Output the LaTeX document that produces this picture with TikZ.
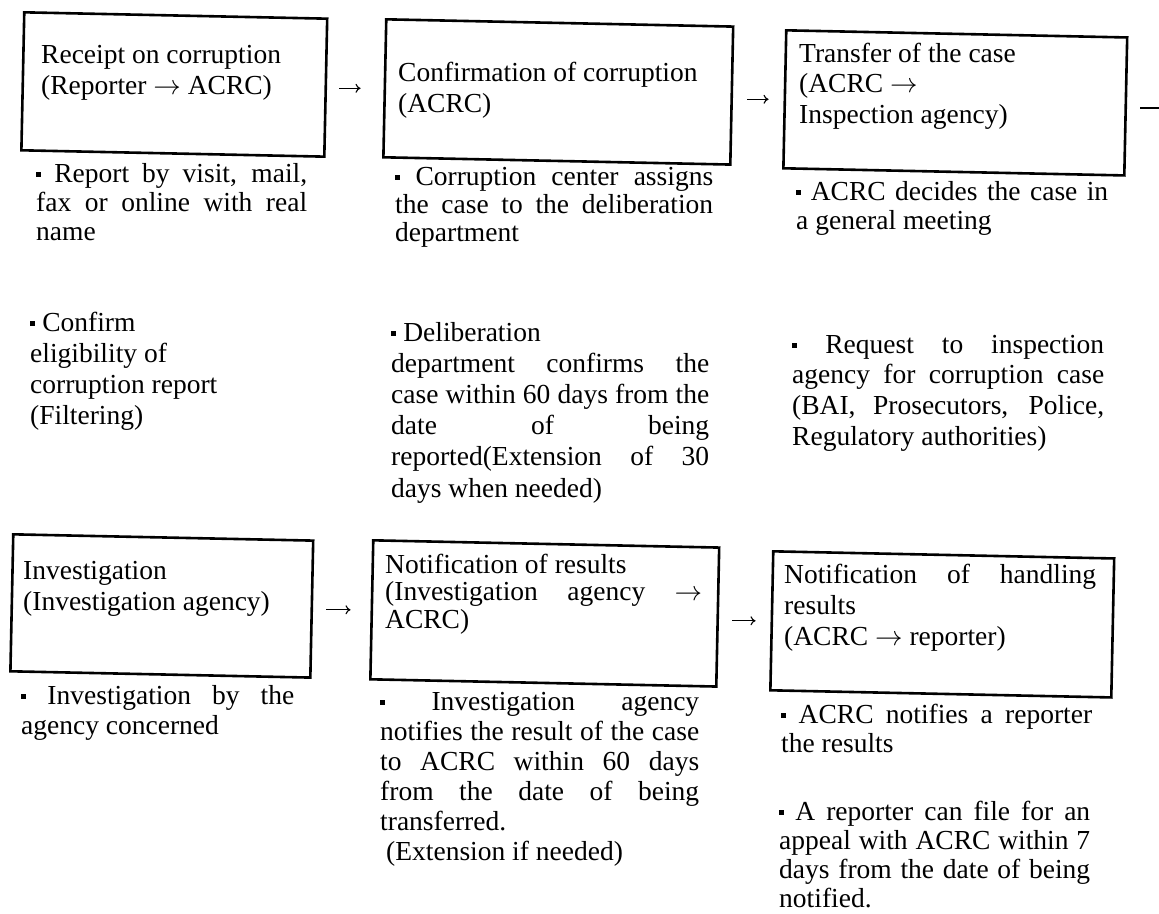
\RequirePackage{fix-cm}
\documentclass[tikz,border=0pt]{standalone}
\usepackage{fontspec}
\setmainfont{Liberation Serif}
\usetikzlibrary{arrows.meta}
\newcommand\sqbul{\raisebox{0.17em}{\rule{0.19em}{0.19em}}}
\newcommand\jline[1]{\makebox[\linewidth][s]{\spaceskip=0pt\xspaceskip=0pt #1}}
\newcommand\rarr{\ensuremath{\rightarrow}}
\newcommand\fs[1]{\fontsize{27.5}{#1}\selectfont}
\begin{document}
\begin{tikzpicture}[x=1pt, y=-1pt,
  box/.style={draw, line width=2.6pt, rectangle, anchor=north west, inner sep=0pt, rotate=-1.2},
  txt/.style={anchor=base west, align=justify, inner sep=0pt},
  conn/.style={line width=1.1pt, -{To[length=5pt,width=9pt]}},
  tailline/.style={line width=1.1pt}]
\useasboundingbox (0,0) rectangle (1159,913);

% boxes
\node[box, minimum width=303pt, minimum height=138pt] (b1) at (23,11) {};
\node[box, minimum width=347pt, minimum height=138pt] (b2) at (385,18) {};
\node[box, minimum width=341pt, minimum height=138pt] (b3) at (785,29) {};
\node[box, minimum width=300pt, minimum height=137pt] (b4) at (12,533) {};
\node[box, minimum width=346pt, minimum height=139pt] (b5) at (372,539) {};
\node[box, minimum width=341pt, minimum height=139pt] (b6) at (772,550) {};

% box texts
\node[txt, text width=290pt, font=\fs{31}] (t1) at (41,63) {Receipt on corruption\\(Reporter \rarr{} ACRC)};
\node[txt, text width=320pt, font=\fs{31}] (t2) at (398,81) {Confirmation of corruption\\(ACRC)};
\node[txt, text width=320pt, font=\fs{30.6}] (t3) at (799,62) {Transfer of the case\\(ACRC \rarr\\Inspection agency)};
\node[txt, text width=280pt, font=\fs{31}] (t4) at (23,579) {Investigation\\(Investigation agency)};
\node[txt, text width=317pt, font=\fs{27.5}] (t5) at (385,573) {Notification of results\\\jline{(Investigation agency \rarr}\\ACRC)};
\node[txt, text width=312pt, font=\fs{31}] (t6) at (784,583) {\jline{Notification of handling}\\results\\(ACRC \rarr{} reporter)};

% captions
\node[txt, text width=271pt, font=\fs{29}] (c1) at (36,182) {\jline{\sqbul{} Report by visit, mail,}\\\jline{fax or online with real}\\name};
\node[txt, text width=318pt, font=\fs{28}] (c2) at (395,185) {\jline{\sqbul{} Corruption center assigns}\\\jline{the case to the deliberation}\\department};
\node[txt, text width=312pt, font=\fs{29}] (c3) at (796,200) {\jline{\sqbul{} ACRC decides the case in}\\a general meeting};
\node[txt, text width=250pt, font=\fs{31}] (c4) at (30,331) {\sqbul{} Confirm\\eligibility of\\corruption report\\(Filtering)};
\node[txt, text width=318pt, font=\fs{31.2}] (c5) at (391,341) {\sqbul{} Deliberation\\\jline{department confirms the}\\\jline{case within 60 days from the}\\\jline{date of being}\\\jline{reported(Extension of 30}\\days when needed)};
\node[txt, text width=312pt, font=\fs{30.7}] (c6) at (792,353) {\jline{\sqbul{} Request to inspection}\\\jline{agency for corruption case}\\\jline{(BAI, Prosecutors, Police,}\\Regulatory authorities)};
\node[txt, text width=273pt, font=\fs{30}] (c7) at (21,704) {\jline{\sqbul{} Investigation by the}\\agency concerned};
\node[txt, text width=319pt, font=\fs{30}] (c8) at (380,710) {\jline{\sqbul{} Investigation agency}\\\jline{notifies the result of the case}\\\jline{to ACRC within 60 days}\\\jline{from the date of being}\\transferred.\\\hspace*{6pt}(Extension if needed)};
\node[txt, text width=311pt, font=\fs{29}] (c9) at (781,723) {\jline{\sqbul{} ACRC notifies a reporter}\\the results};
\node[txt, text width=311pt, font=\fs{29}] (c10) at (779,820) {\jline{\sqbul{} A reporter can file for an}\\\jline{appeal with ACRC within 7}\\\jline{days from the date of being}\\notified.};

% connectors
\draw[conn, shorten <=12pt, shorten >=23pt] (b1.east |- b2.west) -- (b2.west);
\draw[conn, shorten <=14pt, shorten >=15pt] (b2.east |- b3.west) -- (b3.west);
\draw[conn, shorten <=13pt, shorten >=20pt] (b4.east |- b5.west) -- (b5.west);
\draw[conn, shorten <=13pt, shorten >=15pt] (b5.east |- b6.west) -- (b6.west);
\coordinate (tail) at (1159,108);
\draw[tailline, shorten <=13pt] (b3.east |- tail) -- (tail);
\end{tikzpicture}
\end{document}
